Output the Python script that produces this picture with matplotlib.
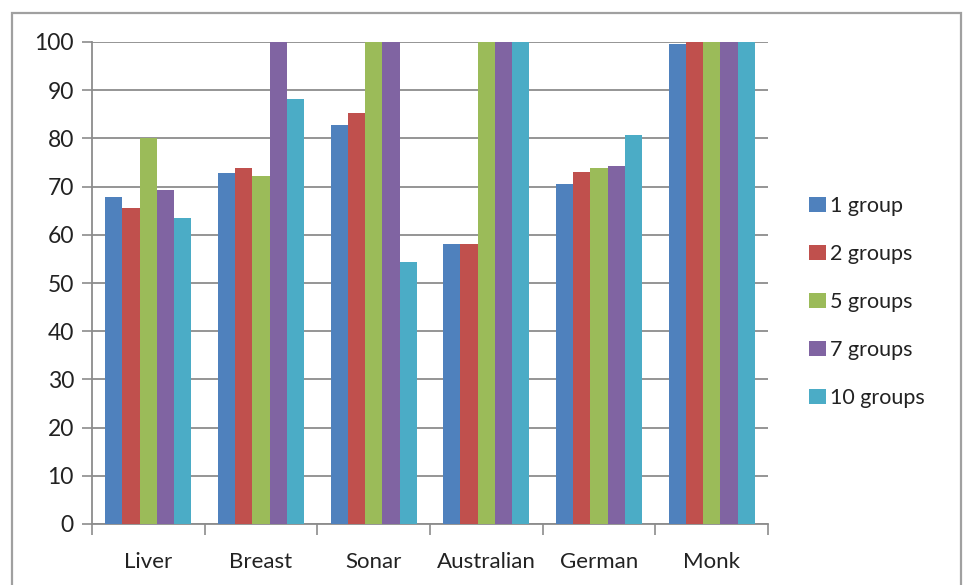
import numpy as np
import matplotlib.pyplot as plt
from matplotlib.patches import Rectangle

plt.rcParams['font.family'] = ['Lato', 'DejaVu Sans']

# 数据集
datasets = ['Liver', 'Breast', 'Sonar', 'Australian', 'German', 'Monk']
# 各分组数的准确率
g1 = [67.8, 72.8, 82.8, 58.1, 70.5, 99.5]
g2 = [65.5, 73.8, 85.2, 58.1, 73.0, 100]
g5 = [80.0, 72.2, 100, 100, 73.8, 100]
g7 = [69.2, 100, 100, 100, 74.2, 100]
g10 = [63.5, 88.2, 54.4, 100, 80.7, 100]
series = [g1, g2, g5, g7, g10]
labels = ['1 group', '2 groups', '5 groups', '7 groups', '10 groups']
colors = ['#4F81BD', '#C0504D', '#9BBB59', '#8064A2', '#4BACC6']

W, H = 963, 585
fig = plt.figure(figsize=(W / 100, H / 100), dpi=100)
ax = fig.add_axes([92 / W, 1 - 524 / H, (768 - 92) / W, (524 - 42) / H])

# 外框
fig.patches.append(Rectangle((12 / W, -0.05), (961 - 12) / W, 1.05 - 13 / H,
                             transform=fig.transFigure, fill=False,
                             edgecolor='#a0a0a0', linewidth=1.6))

x = np.arange(len(datasets))
bw = 0.153
for i, (vals, lab, c) in enumerate(zip(series, labels, colors)):
    ax.bar(x + (i - 2) * bw, vals, bw, color=c, label=lab, zorder=3)

ax.set_xlim(-0.5, len(datasets) - 0.5)
ax.set_ylim(0, 100)
ax.set_yticks(range(0, 101, 10))
ax.yaxis.grid(True, color='#8c8c8c', linewidth=1.3, zorder=0)

# 类别刻度线在分隔处，标签在中间
ax.set_xticks(np.arange(len(datasets) + 1) - 0.5)
ax.set_xticklabels([])
ax.set_xticks(x, minor=True)
ax.set_xticklabels(datasets, minor=True)
ax.tick_params(axis='x', which='minor', length=0, pad=20, labelsize=16,
               labelcolor='#222222')
ax.tick_params(axis='x', which='major', length=8, width=1.2, color='#8c8c8c')
ax.tick_params(axis='y', length=7, width=1.2, color='#8c8c8c', pad=6,
               labelsize=16.5, labelcolor='#222222')

for s in ['top', 'right']:
    ax.spines[s].set_visible(False)
for s in ['left', 'bottom']:
    ax.spines[s].set_color('#8c8c8c')
    ax.spines[s].set_linewidth(1.3)

ax.legend(loc='center left', bbox_to_anchor=(790 / W, 1 - 302 / H),
          bbox_transform=fig.transFigure, frameon=False, fontsize=15.5,
          handlelength=0.75, handleheight=0.75, handletextpad=0.2,
          labelspacing=1.3, labelcolor='#222222')

plt.savefig('out.png', dpi=100)
